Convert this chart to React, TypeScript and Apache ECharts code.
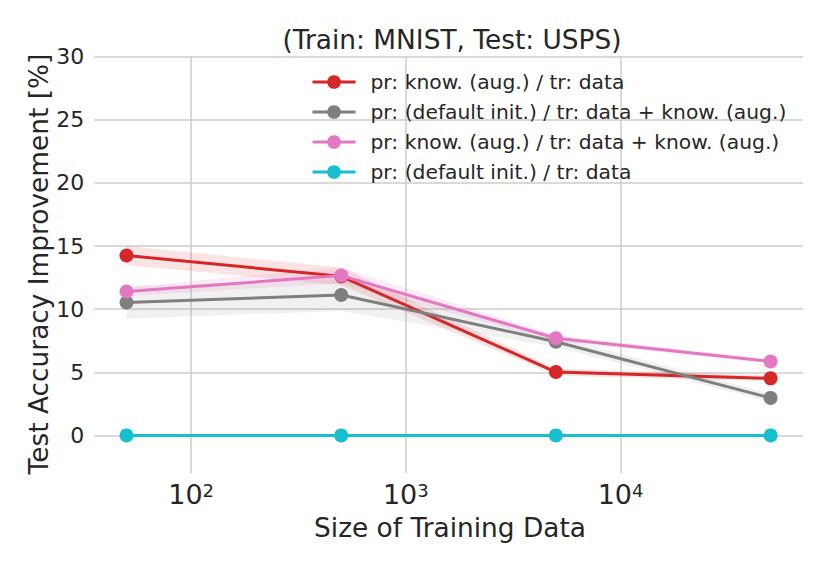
import React, { useEffect, useRef } from "react";
import * as echarts from "echarts";

const FONT = "DejaVu Sans";
const TEXT = "#262626";
const GRID = "#cccccc";

const sizes = [50, 500, 5000, 50000];
const xTicks = [100, 1000, 10000];
const yTicks = [0, 5, 10, 15, 20, 25, 30];

const names = [
  "pr: know. (aug.) / tr: data",
  "pr: (default init.) / tr: data + know. (aug.)",
  "pr: know. (aug.) / tr: data + know. (aug.)",
  "pr: (default init.) / tr: data",
];
const colors = ["#d62728", "#7f7f7f", "#e377c2", "#17becf"];
const bandColors = [
  "rgba(214,39,40,0.13)",
  "rgba(127,127,127,0.11)",
  "rgba(227,119,194,0.15)",
];

const redMean = [14.25, 12.6, 5.02, 4.52];
const redLo = [13.5, 11.9, 4.75, 4.3];
const redHi = [15.0, 13.3, 5.3, 4.75];
const grayMean = [10.53, 11.12, 7.42, 2.97];
const grayLo = [9.25, 9.85, 7.0, 2.65];
const grayHi = [11.8, 12.4, 7.85, 3.3];
const pinkMean = [11.4, 12.66, 7.7, 5.86];
const pinkLo = [11.05, 12.05, 7.45, 5.7];
const pinkHi = [11.75, 13.3, 7.95, 6.02];
const cyanMean = [0, 0, 0, 0];

const means = [redMean, grayMean, pinkMean, cyanMean];
const bands: [number[], number[]][] = [
  [redLo, redHi],
  [grayLo, grayHi],
  [pinkLo, pinkHi],
];

const X_MIN = Math.pow(10, 1.549);
const X_MAX = Math.pow(10, 4.849);

export default function App() {
  const ref = useRef<HTMLDivElement>(null);
  useEffect(() => {
    document.body.style.margin = "0";
    if (!ref.current) return;
    const chart = echarts.init(ref.current, null, { renderer: "svg" });

    const bandSeries = bands.map(([lo, hi], k) => ({
      type: "custom",
      silent: true,
      z: 1,
      data: sizes.map((s, i) => [s, lo[i], hi[i]]),
      encode: { x: 0, y: [1, 2] },
      renderItem: (params: any, api: any) => {
        if (params.dataIndex !== 0) return null;
        const top = sizes.map((s, i) => api.coord([s, hi[i]]));
        const bot = sizes.map((s, i) => api.coord([s, lo[i]])).reverse();
        return {
          type: "polygon",
          shape: { points: top.concat(bot) },
          style: { fill: bandColors[k] },
        };
      },
    }));

    const lineSeries = means.map((m, k) => ({
      type: "line",
      name: names[k],
      z: 3 + k,
      data: sizes.map((s, i) => [s, m[i]]),
      symbol: "circle",
      symbolSize: 14,
      showSymbol: true,
      lineStyle: { color: colors[k], width: 3 },
      itemStyle: { color: colors[k] },
      emphasis: { disabled: true },
    }));

    chart.setOption({
      animation: false,
      grid: { left: 94.3, right: 27.2, top: 56.7, bottom: 97.7 },
      xAxis: {
        type: "log",
        logBase: 10,
        min: X_MIN,
        max: X_MAX,
        axisLine: { show: false },
        axisTick: { show: false },
        splitLine: {
          show: true,
          showMinLine: false,
          showMaxLine: false,
          lineStyle: { color: GRID, width: 1.5 },
        },
        axisLabel: {
          showMinLabel: false,
          showMaxLabel: false,
          margin: 8,
          formatter: (v: number) => {
            const e = Math.log10(v);
            const r = Math.round(e);
            if (Math.abs(e - r) > 1e-6 || !xTicks.includes(Math.pow(10, r))) return "";
            return `{b|10}{s|${r}}`;
          },
          rich: {
            b: { fontSize: 27, fontFamily: FONT, color: TEXT },
            s: { fontSize: 18, fontFamily: FONT, color: TEXT, verticalAlign: "top" },
          },
        },
      },
      yAxis: {
        type: "value",
        min: -3,
        max: 30,
        minInterval: 5,
        maxInterval: 5,
        axisLine: { show: false },
        axisTick: { show: false },
        splitLine: {
          show: true,
          showMinLine: false,
          showMaxLine: true,
          lineStyle: { color: GRID, width: 1.5 },
        },
        axisLabel: {
          showMinLabel: false,
          margin: 10,
          fontSize: 22,
          fontFamily: FONT,
          color: TEXT,
          formatter: (v: number) => (yTicks.includes(v) ? String(v) : ""),
        },
      },
      legend: {
        data: names,
        orient: "vertical",
        left: 311,
        top: 72,
        padding: 0,
        itemWidth: 43,
        itemHeight: 17,
        itemGap: 10,
        selectedMode: false,
        lineStyle: { width: 3 },
        textStyle: { fontSize: 20.3, fontFamily: FONT, color: TEXT, padding: [0, 0, 0, 10] },
      },
      graphic: [
        {
          type: "text",
          x: 452,
          y: 39,
          style: {
            text: "(Train: MNIST, Test: USPS)",
            font: `26.4px "${FONT}"`,
            fill: TEXT,
            align: "center",
            verticalAlign: "middle",
          },
        },
        {
          type: "text",
          x: 450,
          y: 527,
          style: {
            text: "Size of Training Data",
            font: `26.4px "${FONT}"`,
            fill: TEXT,
            align: "center",
            verticalAlign: "middle",
          },
        },
        {
          type: "text",
          x: 38,
          y: 264,
          rotation: Math.PI / 2,
          style: {
            text: "Test Accuracy Improvement [%]",
            font: `26.4px "${FONT}"`,
            fill: TEXT,
            align: "center",
            verticalAlign: "middle",
          },
        },
      ],
      series: [...bandSeries, ...lineSeries],
    });
    return () => chart.dispose();
  }, []);
  return <div ref={ref} style={{ width: 830, height: 571 }} />;
}
